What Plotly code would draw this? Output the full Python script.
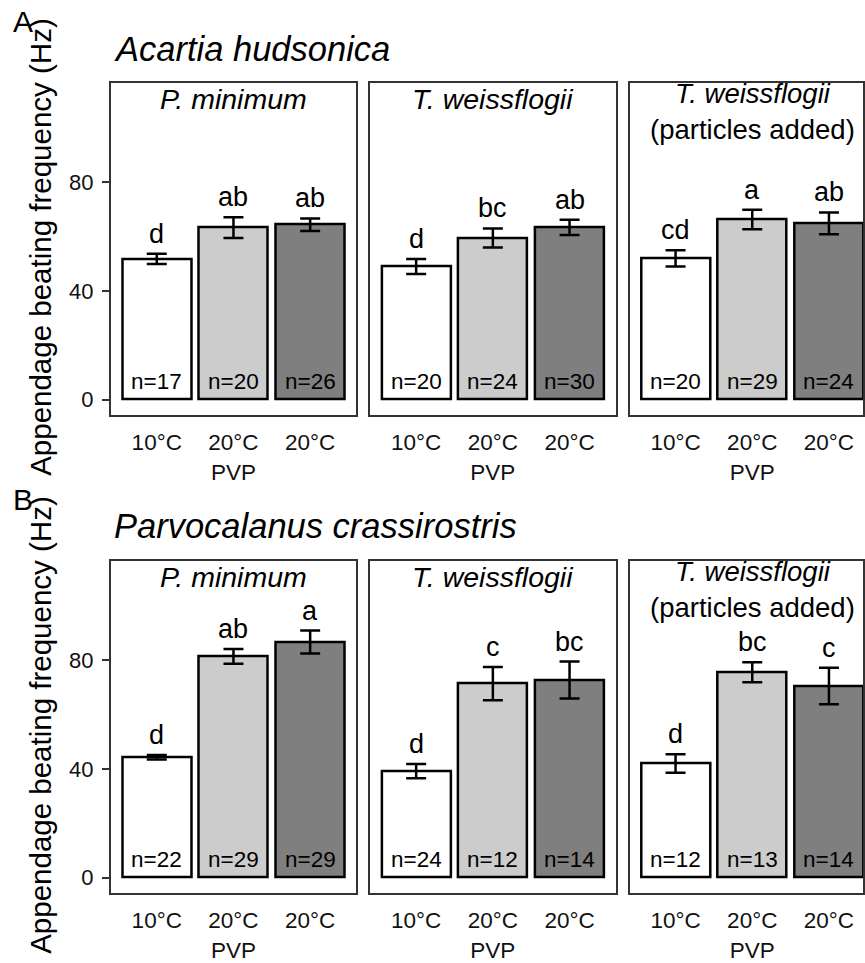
import plotly.graph_objects as go

# ---------------- data ----------------
conditions = ["10°C", "20°C<br>PVP", "20°C"]
foods = ["P. minimum", "T. weissflogii", "T. weissflogii (particles added)"]
species = ["Acartia hudsonica", "Parvocalanus crassirostris"]

# Acartia hudsonica (row A)
a_pmin_mean = [51.8, 63.3, 64.4]
a_pmin_se = [1.9, 3.8, 2.3]
a_tw_mean = [49.0, 59.5, 63.4]
a_tw_se = [2.8, 3.5, 2.8]
a_twp_mean = [52.0, 66.3, 64.9]
a_twp_se = [3.0, 3.6, 4.0]
a_pmin_letters = ["d", "ab", "ab"]
a_tw_letters = ["d", "bc", "ab"]
a_twp_letters = ["cd", "a", "ab"]
a_pmin_n = [17, 20, 26]
a_tw_n = [20, 24, 30]
a_twp_n = [20, 29, 24]

# Parvocalanus crassirostris (row B)
b_pmin_mean = [44.3, 81.4, 86.7]
b_pmin_se = [0.8, 2.7, 4.2]
b_tw_mean = [39.2, 71.4, 72.7]
b_tw_se = [2.6, 6.1, 6.8]
b_twp_mean = [42.0, 75.6, 70.5]
b_twp_se = [3.4, 3.7, 6.7]
b_pmin_letters = ["d", "ab", "a"]
b_tw_letters = ["d", "c", "bc"]
b_twp_letters = ["d", "bc", "c"]
b_pmin_n = [22, 29, 29]
b_tw_n = [24, 12, 14]
b_twp_n = [12, 13, 14]

y_ticks = [0, 40, 80]

# ---------------- layout helpers ----------------
W, H = 865, 963
FONT = "Liberation Sans, Arial, sans-serif"
bar_colors = ["#FFFFFF", "#CCCCCC", "#7F7F7F"]
box_color = "#333333"

def px_x(p):
    return p / W

def px_y(p):
    return 1 - p / H

panel_x = [(111, 357), (371, 617), (631, 865)]
row_y = [(84, 418), (566, 900)]
yrange = [-5.45, 116.4]
xfull = [0.4, 3.6]
cat_px = 76.875  # pixels per category unit

rows = [
    [(a_pmin_mean, a_pmin_se, a_pmin_letters, a_pmin_n),
     (a_tw_mean, a_tw_se, a_tw_letters, a_tw_n),
     (a_twp_mean, a_twp_se, a_twp_letters, a_twp_n)],
    [(b_pmin_mean, b_pmin_se, b_pmin_letters, b_pmin_n),
     (b_tw_mean, b_tw_se, b_tw_letters, b_tw_n),
     (b_twp_mean, b_twp_se, b_twp_letters, b_twp_n)],
]

fig = go.Figure()
annotations = []
xpos = [1, 2, 3]

k = 0
for r, row in enumerate(rows):
    for c, (mean, se, letters, ns) in enumerate(row):
        k += 1
        xa = "x" if k == 1 else f"x{k}"
        ya = "y" if k == 1 else f"y{k}"
        fig.add_trace(go.Bar(
            x=xpos, y=mean, width=0.9,
            marker=dict(color=bar_colors, line=dict(color="black", width=2.5)),
            error_y=dict(type="data", array=se, visible=True, color="black",
                         thickness=2.5, width=10),
            xaxis=xa, yaxis=ya, showlegend=False, hoverinfo="skip",
        ))
        x0, x1 = panel_x[c]
        y0, y1 = row_y[r]
        xr = [xfull[0], xfull[0] + (x1 - x0) / cat_px]
        axis_common = dict(showline=True, mirror=True, linecolor=box_color,
                           linewidth=1.6, showgrid=False, zeroline=False,
                           fixedrange=True)
        fig.layout[("xaxis" if k == 1 else f"xaxis{k}")] = dict(
            domain=[px_x(x0), min(1.0, px_x(x1))], range=xr, anchor=ya,
            tickvals=xpos, ticktext=conditions, ticks="",
            ticklabelstandoff=7,
            tickfont=dict(family=FONT, size=22.5, color="#111111"),
            **axis_common)
        fig.layout[("yaxis" if k == 1 else f"yaxis{k}")] = dict(
            domain=[px_y(y1), px_y(y0)], range=yrange, anchor=xa,
            tickvals=y_ticks, ticks="outside" if c == 0 else "",
            ticklen=7, tickwidth=1.6, tickcolor=box_color,
            showticklabels=(c == 0), ticklabelstandoff=4,
            tickfont=dict(family=FONT, size=22, color="#111111"),
            **axis_common)
        # significance letters and n labels
        for i in range(3):
            annotations.append(dict(
                x=xpos[i], y=mean[i] + se[i], xref=xa, yref=ya,
                text=letters[i], showarrow=False, yanchor="bottom", yshift=3,
                font=dict(family=FONT, size=27, color="black")))
            annotations.append(dict(
                x=xpos[i], y=0, xref=xa, yref=ya,
                text=f"n={ns[i]}", showarrow=False, yanchor="bottom", yshift=4,
                font=dict(family=FONT, size=22.5, color="black")))
        # strip labels (inside panel box)
        roff = r * 482
        if c < 2:
            annotations.append(dict(
                x=2, y=px_y(100 + roff),
                xref=xa, yref="paper", text=f"<i>{foods[c]}</i>",
                showarrow=False, yanchor="middle", xanchor="center",
                font=dict(family=FONT, size=28.5, color="black")))
        else:
            annotations.append(dict(
                x=2, y=px_y(112 + roff), xref=xa, yref="paper",
                text="<i>T. weissflogii</i><br>(particles added)",
                showarrow=False, yanchor="middle", xanchor="center",
                font=dict(family=FONT, size=27.5, color="black")))

# row titles, panel letters, y axis titles
for r, (lab, title_y, lab_y) in enumerate([("A", 49.5, 22), ("B", 530, 504)]):
    roff = r * 482
    annotations.append(dict(
        x=px_x(112), y=px_y(title_y), xref="paper", yref="paper",
        text=f"<i>{species[r]}</i>", showarrow=False, xanchor="left",
        yanchor="middle", font=dict(family=FONT, size=34.5, color="black")))
    annotations.append(dict(
        x=px_x(11), y=px_y(lab_y), xref="paper", yref="paper",
        text=lab, showarrow=False, xanchor="left", yanchor="middle",
        font=dict(family=FONT, size=30, color="black")))
    annotations.append(dict(
        x=px_x(41), y=px_y(249 + roff), xref="paper", yref="paper",
        text="Appendage beating frequency (Hz)", textangle=-90,
        showarrow=False, xanchor="center", yanchor="middle",
        font=dict(family=FONT, size=29.5, color="black")))

fig.update_layout(
    width=W, height=H,
    margin=dict(l=0, r=0, t=0, b=0),
    paper_bgcolor="white", plot_bgcolor="white",
    bargap=0, annotations=annotations,
    font=dict(family=FONT),
    hovermode=False,
)

fig.write_html("out.html",
               config={"displayModeBar": False},
               post_script="document.body.style.margin='0';"
                           "document.body.style.overflow='hidden';")
